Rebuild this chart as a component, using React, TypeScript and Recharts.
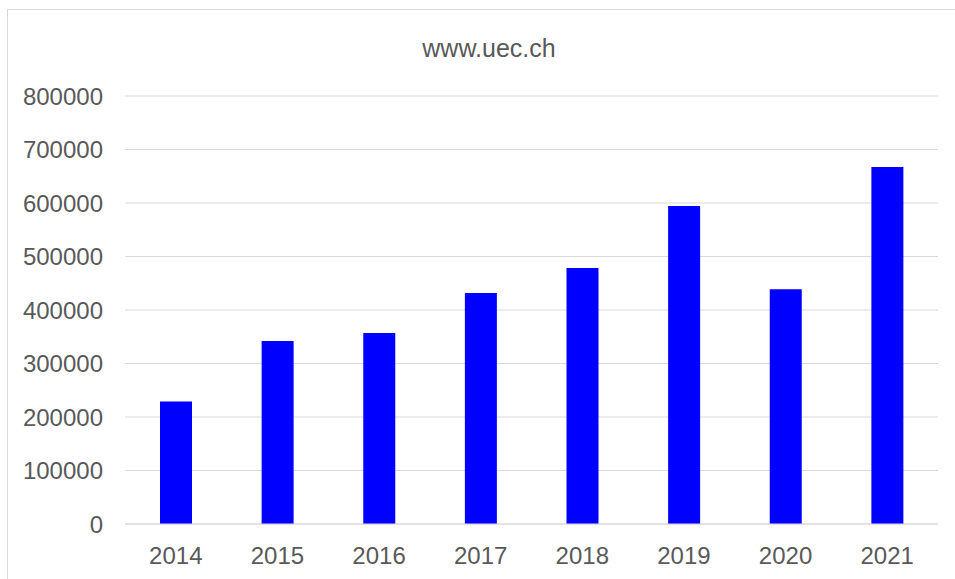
import React from 'react';
import { BarChart, Bar, XAxis, YAxis, CartesianGrid } from 'recharts';

const years = ['2014', '2015', '2016', '2017', '2018', '2019', '2020', '2021'];
const visitors = [229000, 342000, 357000, 432000, 478500, 594500, 439000, 667500];
const yTicks = [0, 100000, 200000, 300000, 400000, 500000, 600000, 700000, 800000];

const data = years.map((year, i) => ({ year, value: visitors[i] }));

const FONT = '"Liberation Sans", Arial, sans-serif';
const TEXT = '#595959';
const GRID = '#d9d9d9';

const App: React.FC = () => {
  return (
    <div style={{ position: 'absolute', left: 0, top: 0, width: 955, height: 579, overflow: 'hidden', background: '#fff' }}>
      {/* chart frame, cropped on the right and bottom like the source */}
      <div
        style={{
          position: 'absolute',
          left: 7,
          top: 9,
          width: 1000,
          height: 620,
          border: `1px solid ${GRID}`,
          boxSizing: 'border-box',
        }}
      />
      <div
        style={{
          position: 'absolute',
          left: 0,
          width: 978,
          top: 34,
          textAlign: 'center',
          fontFamily: FONT,
          fontSize: 25,
          color: TEXT,
        }}
      >
        www.uec.ch
      </div>
      <div style={{ position: 'absolute', left: 0, top: 0 }}>
        <BarChart
          width={955}
          height={579}
          data={data}
          margin={{ top: 96, right: 17, bottom: 15, left: 7 }}
          barSize={32}
        >
          <CartesianGrid vertical={false} stroke={GRID} strokeWidth={1} />
          <XAxis
            dataKey="year"
            height={40}
            axisLine={{ stroke: GRID }}
            tickLine={false}
            tickSize={0}
            tickMargin={23}
            tick={{ fontSize: 24, fill: TEXT, fontFamily: FONT }}
            interval={0}
          />
          <YAxis
            width={118}
            domain={[0, 800000]}
            ticks={yTicks}
            axisLine={false}
            tickLine={false}
            tickSize={0}
            tickMargin={22}
            tick={{ fontSize: 24, fill: TEXT, fontFamily: FONT }}
          />
          <Bar dataKey="value" fill="#0000ff" isAnimationActive={false} />
        </BarChart>
      </div>
    </div>
  );
};

export default App;
